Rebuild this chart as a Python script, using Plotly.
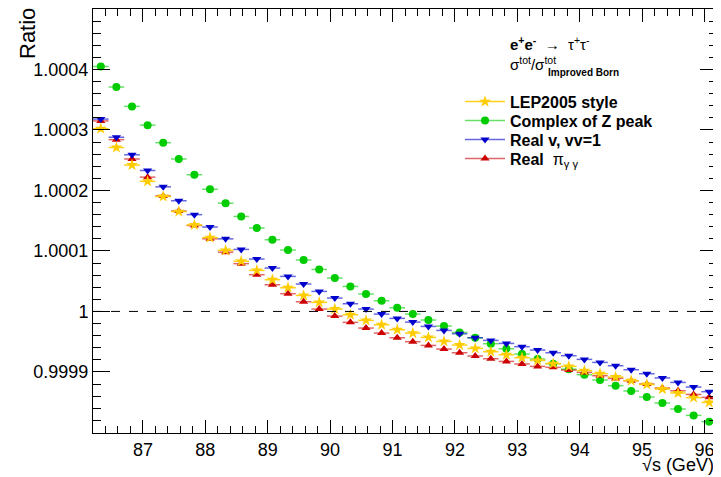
import plotly.graph_objects as go

# bin centres (GeV): 40 bins of 0.25 GeV from 86.2 to 96.2
sqrt_s = [86.325, 86.575, 86.825, 87.075, 87.325, 87.575, 87.825, 88.075, 88.325, 88.575,
          88.825, 89.075, 89.325, 89.575, 89.825, 90.075, 90.325, 90.575, 90.825, 91.075,
          91.325, 91.575, 91.825, 92.075, 92.325, 92.575, 92.825, 93.075, 93.325, 93.575,
          93.825, 94.075, 94.325, 94.575, 94.825, 95.075, 95.325, 95.575, 95.825, 96.075]
half_bin = 0.125

lep2005 = [1.000302, 1.000271, 1.000242, 1.000215, 1.000190, 1.000165, 1.000143, 1.000122, 1.000101, 1.000083,
           1.0000678, 1.0000524, 1.0000392, 1.0000264, 1.0000149, 1.0000039, 0.9999945, 0.9999851, 0.9999780, 0.9999697,
           0.9999642, 0.9999570, 0.9999504, 0.9999444, 0.9999388, 0.9999334, 0.9999284, 0.9999235, 0.9999190, 0.9999136,
           0.9999091, 0.9999020, 0.9998970, 0.9998915, 0.9998855, 0.9998793, 0.9998717, 0.9998651, 0.9998574, 0.9998496]

complex_z = [1.000405, 1.000371, 1.000339, 1.000308, 1.000279, 1.000252, 1.000226, 1.000202, 1.000179, 1.000157,
             1.000138, 1.0001185, 1.0001015, 1.000085, 1.0000694, 1.0000552, 1.0000413, 1.0000288, 1.0000177, 1.0000061,
             0.9999957, 0.9999858, 0.9999759, 0.9999653, 0.9999565, 0.9999466, 0.9999383, 0.9999296, 0.9999213, 0.9999136,
             0.9999045, 0.9998954, 0.9998866, 0.9998772, 0.9998684, 0.9998585, 0.9998486, 0.9998387, 0.9998281, 0.9998177]

real_v = [1.000318, 1.000288, 1.000259, 1.000233, 1.000206, 1.000183, 1.000160, 1.0001395, 1.000120, 1.0001025,
          1.0000866, 1.0000717, 1.0000579, 1.0000453, 1.0000331, 1.0000221, 1.0000127, 1.0000039, 0.9999956, 0.9999885,
          0.9999824, 0.9999752, 0.9999686, 0.9999631, 0.9999565, 0.9999521, 0.9999471, 0.9999417, 0.9999362, 0.9999317,
          0.9999268, 0.9999207, 0.9999157, 0.9999102, 0.9999036, 0.9998970, 0.9998900, 0.9998826, 0.9998750, 0.9998673]

real_pi = [1.000315, 1.000284, 1.000252, 1.000222, 1.000191, 1.000166, 1.000142, 1.000120, 1.000098, 1.000079,
           1.0000607, 1.0000441, 1.0000293, 1.0000160, 1.0000039, 0.9999923, 0.9999819, 0.9999725, 0.9999642, 0.9999565,
           0.9999500, 0.9999438, 0.9999378, 0.9999317, 0.9999263, 0.9999218, 0.9999174, 0.9999131, 0.9999091, 0.9999075,
           0.9999030, 0.9998992, 0.9998937, 0.9998893, 0.9998855, 0.9998800, 0.9998734, 0.9998689, 0.9998628, 0.9998579]

x_ticks = [87, 88, 89, 90, 91, 92, 93, 94, 95, 96]
y_ticks = [0.9999, 1.0, 1.0001, 1.0002, 1.0003, 1.0004]
y_ticktext = ["0.9999", "1", "1.0001", "1.0002", "1.0003", "1.0004"]

series = [
    # name, values, marker colour, line colour, symbol, size
    ("<b>LEP2005 style</b>", lep2005, "#FFCC00", "rgba(255,204,0,0.9)", "star", 9),
    ("<b>Complex of Z peak</b>", complex_z, "#00CC00", "rgba(0,204,0,0.6)", "circle", 8),
    ("<b>Real v, vv=1</b>", real_v, "#0000CC", "rgba(0,0,204,0.6)", "triangle-down", 8),
    ("<b>Real</b>  π<sub>γ γ</sub>", real_pi, "#CC0000", "rgba(204,0,0,0.6)", "triangle-up", 8),
]

# the page body has an 8px margin; figure is sized to fit the 721x477 window
W, H = 713, 469
OFF = 8
ML, MR, MT, MB = 85, 4, 1, 44
PL, PT = OFF + ML, OFF + MT          # plot area left / top in window pixels
PW, PH = W - ML - MR, H - MT - MB    # plot area size


def px(xp):
    return (xp - PL) / PW


def py(yp):
    return (PT + PH - yp) / PH


fig = go.Figure()
FONT = "Liberation Sans, Arial, Helvetica, sans-serif"

legend_ids = ["legend", "legend2", "legend3", "legend4"]
row_y = [101.7, 120.7, 139.5, 158.5]

# legend entries (line + marker), one legend per row
for (name, vals, mc, lc, sym, sz), lid in zip(series, legend_ids):
    fig.add_trace(go.Scatter(x=[None], y=[None], mode="lines+markers", name=name,
                             line=dict(color=lc, width=1.5),
                             marker=dict(color=mc, symbol=sym, size=sz, line=dict(width=0)),
                             showlegend=True, legend=lid))

# data traces, drawing order: green, red, blue, yellow
draw_order = [1, 3, 2, 0]
for k in draw_order:
    name, vals, mc, lc, sym, sz = series[k]
    fig.add_trace(go.Scatter(x=sqrt_s, y=vals, mode="markers", showlegend=False,
                             marker=dict(color=mc, symbol=sym, size=sz, line=dict(width=0)),
                             error_x=dict(type="constant", value=half_bin, thickness=1.5,
                                          width=0, color=lc)))

fig.add_shape(type="line", xref="paper", x0=0, x1=1, yref="y", y0=1.0, y1=1.0,
              line=dict(color="black", width=1, dash="dash"))

fig.add_annotation(xref="paper", yref="paper", x=px(27), y=py(34), text="Ratio",
                   textangle=-90, showarrow=False, font=dict(size=22, family=FONT, color="black"),
                   xanchor="center", yanchor="middle")
fig.add_annotation(xref="paper", yref="paper", x=px(716), y=py(465), text="√s (GeV)",
                   showarrow=False, font=dict(size=18, family=FONT, color="black"),
                   xanchor="right", yanchor="middle")
fig.add_annotation(xref="paper", yref="paper", x=px(508), y=py(44),
                   text="<b>e<sup>+</sup>e<sup>-</sup></b>  →  τ<sup>+</sup>τ<sup>-</sup>",
                   showarrow=False, font=dict(size=15, family=FONT, color="black"),
                   xanchor="left", yanchor="middle")
fig.add_annotation(xref="paper", yref="paper", x=px(508), y=py(63),
                   text="σ<sup>tot</sup>/σ<sup>tot</sup>",
                   showarrow=False, font=dict(size=15, family=FONT, color="black"),
                   xanchor="left", yanchor="middle")
fig.add_annotation(xref="paper", yref="paper", x=px(546), y=py(72),
                   text="<b>Improved Born</b>",
                   showarrow=False, font=dict(size=10, family=FONT, color="black"),
                   xanchor="left", yanchor="middle")

legend_layout = {}
for lid, ry in zip(legend_ids, row_y):
    legend_layout[lid] = dict(x=px(460), y=py(ry), xanchor="left", yanchor="middle",
                              bgcolor="rgba(0,0,0,0)", borderwidth=0,
                              font=dict(size=16, family=FONT, color="black"),
                              itemwidth=40)

fig.update_layout(
    width=W, height=H,
    margin=dict(l=ML, r=MR, t=MT, b=MB),
    plot_bgcolor="white", paper_bgcolor="white",
    font=dict(family=FONT, color="black"),
    xaxis=dict(range=[86.2, 96.2], tickvals=x_ticks, ticks="inside", ticklen=13,
               tickwidth=1, tickcolor="black", linecolor="black", linewidth=1,
               mirror="allticks", showgrid=False, zeroline=False,
               tickfont=dict(size=18, family=FONT, color="black"),
               minor=dict(ticks="inside", ticklen=7, tick0=87, dtick=0.2, tickcolor="black",
                          showgrid=False)),
    yaxis=dict(range=[0.999799, 1.000500], tickvals=y_ticks, ticktext=y_ticktext,
               ticks="inside", ticklen=17, tickwidth=1, tickcolor="black",
               linecolor="black", linewidth=1, mirror="allticks", showgrid=False,
               zeroline=False, tickfont=dict(size=18, family=FONT, color="black"),
               minor=dict(ticks="inside", ticklen=8, tick0=0.9998, dtick=0.00002,
                          tickcolor="black", showgrid=False)),
    **legend_layout,
)

fig.write_html("out.html")
